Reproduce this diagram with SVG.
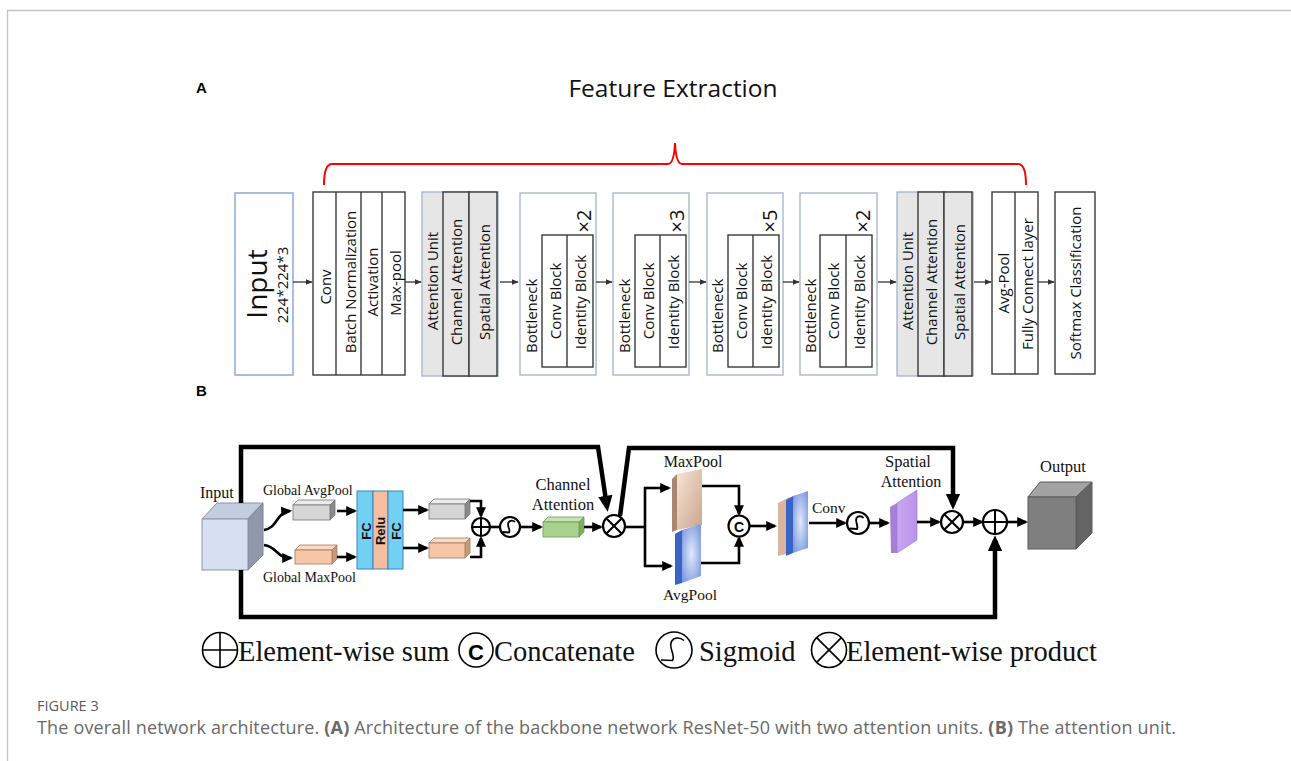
<svg xmlns="http://www.w3.org/2000/svg" width="1291" height="761" viewBox="0 0 1291 761">
<style>
.sa{font-family:"Open Sans","Liberation Sans",sans-serif;fill:#111}
.sb{font-family:"Liberation Serif","Times New Roman",serif;fill:#111}
.vt{font-family:"Open Sans","Liberation Sans",sans-serif;font-size:15px;fill:#111;text-anchor:middle;dominant-baseline:central}
.bx{fill:#fff;stroke:#3a3a3a;stroke-width:1.4}
.lb{fill:#fff;stroke:#a9b8cc;stroke-width:1.4}
.gu{fill:#e6e6e6;stroke:#a9b8cc;stroke-width:1.4}
.gi{fill:#e6e6e6;stroke:#3a3a3a;stroke-width:1.4}
.ca{fill:none;stroke:#333;stroke-width:1.3;marker-end:url(#mA)}
.cb{fill:none;stroke:#000;stroke-width:2.6}
.cbm{fill:none;stroke:#000;stroke-width:2.6;marker-end:url(#mB)}
.ct{fill:none;stroke:#000;stroke-width:4.5;stroke-linejoin:miter;marker-end:url(#mC)}
.op{fill:#fff;stroke:#000;stroke-width:2.2}
.lg{fill:#fff;stroke:#000;stroke-width:1.6}
</style>
<defs>
<marker id="mA" viewBox="0 0 10 10" refX="9" refY="5" markerWidth="7" markerHeight="7" markerUnits="userSpaceOnUse" orient="auto"><path d="M0,1 L10,5 L0,9 z" fill="#333"/></marker>
<marker id="mB" viewBox="0 0 10 10" refX="8" refY="5" markerWidth="11" markerHeight="11" markerUnits="userSpaceOnUse" orient="auto"><path d="M0,0.5 L10,5 L0,9.5 z" fill="#000"/></marker>
<marker id="mC" viewBox="0 0 10 10" refX="7" refY="5" markerWidth="16" markerHeight="16" markerUnits="userSpaceOnUse" orient="auto"><path d="M0,0.5 L10,5 L0,9.5 z" fill="#000"/></marker>
<linearGradient id="gMax" x1="0" y1="0" x2="1" y2="1"><stop offset="0" stop-color="#f7e4d4"/><stop offset="1" stop-color="#c9a58f"/></linearGradient>
<radialGradient id="gAvg" cx="0.5" cy="0.5" r="0.6"><stop offset="0" stop-color="#e2e9fa"/><stop offset="1" stop-color="#7f9de0"/></radialGradient>
<linearGradient id="gPur" x1="0" y1="0" x2="1" y2="0"><stop offset="0" stop-color="#c9a6f0"/><stop offset="1" stop-color="#b993ea"/></linearGradient>
</defs>
<rect width="1291" height="761" fill="#fff"/>
<path d="M7.5,761 L7.5,10.5 L1291,10.5" fill="none" stroke="#c4c4c4" stroke-width="1.3"/>

<!-- Part A -->
<text x="196" y="93" font-family="Liberation Sans, Arial, sans-serif" font-weight="bold" font-size="15" fill="#000">A</text>
<text class="sa" x="673" y="97" font-size="24.5" text-anchor="middle" fill="#222">Feature Extraction</text>
<path id="brace" d="M324,185 Q324,164 332,164 L668,164 Q674,164 675,143 Q676,164 682,164 L1018,164 Q1026,164 1026,185" fill="none" stroke="#ff0000" stroke-width="2"/>

<g id="a-input">
<rect x="235" y="193" width="58" height="182" fill="#fff" stroke="#8fa9d4" stroke-width="1.5"/>
<text class="vt" transform="translate(256,284) rotate(-90)" style="font-size:28px">Input</text>
<text class="vt" transform="translate(282,285) rotate(-90)">224*224*3</text>
</g>
<g id="a-conv">
<rect class="bx" x="313" y="192" width="92" height="183"/>
<line x1="336" y1="192" x2="336" y2="375" stroke="#3a3a3a" stroke-width="1.4"/>
<line x1="361" y1="192" x2="361" y2="375" stroke="#3a3a3a" stroke-width="1.4"/>
<line x1="382" y1="192" x2="382" y2="375" stroke="#3a3a3a" stroke-width="1.4"/>
<text class="vt" transform="translate(325,287) rotate(-90)">Conv</text>
<text class="vt" transform="translate(350,282) rotate(-90)">Batch Normalization</text>
<text class="vt" transform="translate(372,282) rotate(-90)">Activation</text>
<text class="vt" transform="translate(395,283) rotate(-90)">Max-pool</text>
</g>
<g id="a-att1">
<rect class="gu" x="422" y="192" width="76" height="184"/>
<rect class="gi" x="443" y="192" width="26" height="184"/>
<rect class="gi" x="469" y="192" width="28" height="184"/>
<text class="vt" transform="translate(432,281) rotate(-90)">Attention Unit</text>
<text class="vt" transform="translate(456,282) rotate(-90)">Channel Attention</text>
<text class="vt" transform="translate(484,282) rotate(-90)">Spatial Attention</text>
</g>
<g id="a-stage1">
<rect class="lb" x="520" y="193" width="76" height="182"/>
<rect class="bx" x="542" y="235" width="51" height="132"/>
<line x1="567" y1="235" x2="567" y2="367" stroke="#3a3a3a" stroke-width="1.4"/>
<text class="vt" transform="translate(531,353) rotate(-90)" style="text-anchor:start">Bottleneck</text>
<text class="vt" transform="translate(555,301) rotate(-90)">Conv Block</text>
<text class="vt" transform="translate(580,302) rotate(-90)">Identity Block</text>
<text class="vt" transform="translate(583,221) rotate(-90)" style="font-size:20px">×2</text>
</g>
<g id="a-stage2">
<rect class="lb" x="613" y="193" width="76" height="182"/>
<rect class="bx" x="635" y="235" width="51" height="132"/>
<line x1="660" y1="235" x2="660" y2="367" stroke="#3a3a3a" stroke-width="1.4"/>
<text class="vt" transform="translate(624,353) rotate(-90)" style="text-anchor:start">Bottleneck</text>
<text class="vt" transform="translate(648,301) rotate(-90)">Conv Block</text>
<text class="vt" transform="translate(673,302) rotate(-90)">Identity Block</text>
<text class="vt" transform="translate(676,221) rotate(-90)" style="font-size:20px">×3</text>
</g>
<g id="a-stage3">
<rect class="lb" x="707" y="193" width="76" height="182"/>
<rect class="bx" x="728" y="235" width="51" height="132"/>
<line x1="753" y1="235" x2="753" y2="367" stroke="#3a3a3a" stroke-width="1.4"/>
<text class="vt" transform="translate(717,353) rotate(-90)" style="text-anchor:start">Bottleneck</text>
<text class="vt" transform="translate(741,301) rotate(-90)">Conv Block</text>
<text class="vt" transform="translate(766,302) rotate(-90)">Identity Block</text>
<text class="vt" transform="translate(769,221) rotate(-90)" style="font-size:20px">×5</text>
</g>
<g id="a-stage4">
<rect class="lb" x="800" y="193" width="77" height="182"/>
<rect class="bx" x="820" y="235" width="52" height="132"/>
<line x1="846" y1="235" x2="846" y2="367" stroke="#3a3a3a" stroke-width="1.4"/>
<text class="vt" transform="translate(810,353) rotate(-90)" style="text-anchor:start">Bottleneck</text>
<text class="vt" transform="translate(833,301) rotate(-90)">Conv Block</text>
<text class="vt" transform="translate(859,302) rotate(-90)">Identity Block</text>
<text class="vt" transform="translate(862,221) rotate(-90)" style="font-size:20px">×2</text>
</g>
<g id="a-att2">
<rect class="gu" x="897" y="192" width="76" height="184"/>
<rect class="gi" x="918" y="192" width="26" height="184"/>
<rect class="gi" x="944" y="192" width="28" height="184"/>
<text class="vt" transform="translate(907,281) rotate(-90)">Attention Unit</text>
<text class="vt" transform="translate(931,282) rotate(-90)">Channel Attention</text>
<text class="vt" transform="translate(959,282) rotate(-90)">Spatial Attention</text>
</g>
<g id="a-head">
<rect class="bx" x="992" y="192" width="46" height="182"/>
<line x1="1015" y1="192" x2="1015" y2="374" stroke="#3a3a3a" stroke-width="1.4"/>
<text class="vt" transform="translate(1003,283) rotate(-90)">Avg-Pool</text>
<text class="vt" transform="translate(1027,284) rotate(-90)">Fully  Connect layer</text>
</g>
<g id="a-softmax">
<rect class="bx" x="1055" y="192" width="40" height="182"/>
<text class="vt" transform="translate(1075,283) rotate(-90)">Softmax Classification</text>
</g>
<g id="a-connectors">
<path class="ca" d="M293,282 L312,282"/>
<path class="ca" d="M405,282 L421,282"/>
<path class="ca" d="M500,282 L518,282"/>
<path class="ca" d="M596,282 L612,282"/>
<path class="ca" d="M689,282 L706,282"/>
<path class="ca" d="M783,282 L799,282"/>
<path class="ca" d="M878,282 L896,282"/>
<path class="ca" d="M974,282 L991,282"/>
<path class="ca" d="M1038,282 L1054,282"/>
</g>

<!-- Part B -->
<text x="196" y="396" font-family="Liberation Sans, Arial, sans-serif" font-weight="bold" font-size="15" fill="#000">B</text>

<g id="b-input">
<polygon points="202,519 217,503 263,503 248,519" fill="#c3cde0" stroke="#8a93a6" stroke-width="1"/>
<polygon points="248,519 263,503 263,555 248,570" fill="#9099ab" stroke="#7a8396" stroke-width="1"/>
<rect x="202" y="519" width="46" height="51" fill="#d7e0f1" stroke="#8a93a6" stroke-width="1"/>
<text class="sb" x="200" y="498" font-size="16">Input</text>
</g>
<g id="b-gap">
<polygon points="293,505 298,500 335,500 330,505" fill="#ececec" stroke="#777" stroke-width="0.8"/>
<polygon points="330,505 335,500 335,515 330,520" fill="#8a8a8a" stroke="#777" stroke-width="0.8"/>
<rect x="293" y="505" width="37" height="15" fill="#d6d6d6" stroke="#777" stroke-width="0.8"/>
<text class="sb" x="263" y="495" font-size="14">Global AvgPool</text>
</g>
<g id="b-gmp">
<polygon points="295,550 300,545 337,545 332,550" fill="#fbd9c2" stroke="#a07a60" stroke-width="0.8"/>
<polygon points="332,550 337,545 337,559 332,564" fill="#c99a7a" stroke="#a07a60" stroke-width="0.8"/>
<rect x="295" y="550" width="37" height="14" fill="#f6c6a6" stroke="#a07a60" stroke-width="0.8"/>
<text class="sb" x="263" y="582" font-size="14">Global MaxPool</text>
</g>
<g id="b-mlp">
<rect x="357" y="491" width="16" height="78" fill="#72d0f2" stroke="#3c84c4" stroke-width="1"/>
<rect x="373" y="491" width="15" height="78" fill="#f5bf9f" stroke="#3c84c4" stroke-width="1"/>
<rect x="388" y="491" width="15" height="78" fill="#72d0f2" stroke="#3c84c4" stroke-width="1"/>
<text transform="translate(366,531) rotate(-90)" font-family="Liberation Sans, Arial, sans-serif" font-weight="bold" font-size="13" text-anchor="middle" dominant-baseline="central" fill="#111">FC</text>
<text transform="translate(380,531) rotate(-90)" font-family="Liberation Sans, Arial, sans-serif" font-weight="bold" font-size="13" text-anchor="middle" dominant-baseline="central" fill="#111">Relu</text>
<text transform="translate(396,531) rotate(-90)" font-family="Liberation Sans, Arial, sans-serif" font-weight="bold" font-size="13" text-anchor="middle" dominant-baseline="central" fill="#111">FC</text>
</g>
<g id="b-avgout">
<polygon points="429,504 434,499 470,499 465,504" fill="#ececec" stroke="#777" stroke-width="0.8"/>
<polygon points="465,504 470,499 470,514 465,519" fill="#8a8a8a" stroke="#777" stroke-width="0.8"/>
<rect x="429" y="504" width="36" height="15" fill="#d6d6d6" stroke="#777" stroke-width="0.8"/>
</g>
<g id="b-maxout">
<polygon points="429,543 434,538 470,538 465,543" fill="#fbd9c2" stroke="#a07a60" stroke-width="0.8"/>
<polygon points="465,543 470,538 470,553 465,558" fill="#c99a7a" stroke="#a07a60" stroke-width="0.8"/>
<rect x="429" y="543" width="36" height="15" fill="#f6c6a6" stroke="#a07a60" stroke-width="0.8"/>
</g>
<g id="b-sum1">
<circle class="op" cx="481" cy="527" r="9"/>
<path d="M472,527 H490 M481,518 V536" stroke="#000" stroke-width="2"/>
</g>
<g id="b-sig1">
<circle class="op" cx="510" cy="527" r="10"/>
<path d="M502.5,532 L509,532.5 C511,530 506.5,526 508.5,522.5 C510,520 513,520 515,522" fill="none" stroke="#000" stroke-width="1.8"/>
</g>
<g id="b-ca">
<polygon points="543,522 548,517 584,517 579,522" fill="#c6e3b0" stroke="#6e9a55" stroke-width="0.8"/>
<polygon points="579,522 584,517 584,532 579,537" fill="#7fae5e" stroke="#6e9a55" stroke-width="0.8"/>
<rect x="543" y="522" width="36" height="15" fill="#a9d28c" stroke="#6e9a55" stroke-width="0.8"/>
<text class="sb" x="563" y="490" font-size="16.5" text-anchor="middle" fill="#2a2a2a">Channel</text>
<text class="sb" x="563" y="510" font-size="16.5" text-anchor="middle" fill="#2a2a2a">Attention</text>
</g>
<g id="b-prod1">
<circle class="op" cx="614" cy="526" r="11"/>
<path d="M606.2,518.2 L621.8,533.8 M621.8,518.2 L606.2,533.8" stroke="#000" stroke-width="2"/>
</g>
<g id="b-maxpool">
<polygon points="672,479 677,474 677,530 672,532" fill="#a98670"/>
<polygon points="677,474 702,469 702,525 677,530" fill="url(#gMax)"/>
<text class="sb" x="693" y="467" font-size="16" text-anchor="middle">MaxPool</text>
</g>
<g id="b-avgpool">
<polygon points="675,534 682,530 682,583 675,585" fill="#3a63c6"/>
<polygon points="682,530 701,524 701,576 682,583" fill="url(#gAvg)"/>
<text class="sb" x="690" y="600" font-size="15.5" text-anchor="middle">AvgPool</text>
</g>
<g id="b-concat">
<circle class="op" cx="739" cy="526" r="10.5"/>
<text x="739" y="527" font-family="Liberation Sans, Arial, sans-serif" font-weight="bold" font-size="14" text-anchor="middle" dominant-baseline="central" fill="#000">C</text>
</g>
<g id="b-cat">
<polygon points="778,503 790,497 790,553 778,556" fill="#d8b59c"/>
<polygon points="786,500 793,496 793,553 786,556" fill="#3a63c6"/>
<polygon points="793,496 808,491 808,548 793,553" fill="url(#gAvg)"/>
<text class="sb" x="812" y="513" font-size="15.5">Conv</text>
</g>
<g id="b-sig2">
<circle class="op" cx="858" cy="523" r="11"/>
<path d="M849.8,528.5 L857,529 C859,526 854.5,522 856.5,518 C858,515.5 861.5,515.5 863.5,518" fill="none" stroke="#000" stroke-width="2"/>
</g>
<g id="b-sa">
<polygon points="890,507 897,503 897,553 891,553" fill="#a57fd9"/>
<polygon points="897,503 917,490 917,540 897,553" fill="url(#gPur)" stroke="#9a76cf" stroke-width="0.6"/>
<text class="sb" x="908" y="467" font-size="16.5" text-anchor="middle" fill="#2a2a2a">Spatial</text>
<text class="sb" x="911" y="487" font-size="16" text-anchor="middle" fill="#2a2a2a">Attention</text>
</g>
<g id="b-prod2">
<circle class="op" cx="952" cy="522" r="11"/>
<path d="M944.2,514.2 L959.8,529.8 M959.8,514.2 L944.2,529.8" stroke="#000" stroke-width="2"/>
</g>
<g id="b-sum2">
<circle class="op" cx="995" cy="522" r="12"/>
<path d="M983,522 H1007 M995,510 V534" stroke="#000" stroke-width="2"/>
</g>
<g id="b-output">
<polygon points="1028,497 1040,482 1092,482 1076,497" fill="#a3a3a3" stroke="#5a5a5a" stroke-width="1"/>
<polygon points="1076,497 1092,482 1092,533 1076,549" fill="#646464" stroke="#5a5a5a" stroke-width="1"/>
<rect x="1028" y="497" width="48" height="52" fill="#7f7f7f" stroke="#5a5a5a" stroke-width="1"/>
<text class="sb" x="1063" y="472" font-size="16.5" text-anchor="middle">Output</text>
</g>

<g id="b-connectors">
<path class="cbm" d="M264,530 C278,528 276,512 290,511"/>
<path class="cbm" d="M264,545 C278,547 276,558 291,558"/>
<path class="cbm" d="M337,511 L355,511"/>
<path class="cbm" d="M337,557 L355,557"/>
<path class="cbm" d="M403,510 L427,510"/>
<path class="cbm" d="M403,548 L427,548"/>
<path class="cbm" d="M470,501 L481,501 L481,516"/>
<path class="cbm" d="M470,557 L481,557 L481,538"/>
<path class="cb" d="M490,527 L500,527"/>
<path class="cbm" d="M520,527 L541,527"/>
<path class="cbm" d="M584,527 L601,527"/>
<path class="cb" d="M625,527 L645,527"/>
<path class="cb" d="M645,487 L645,567"/>
<path class="cbm" d="M644,488 L669,488"/>
<path class="cbm" d="M644,566 L671,566"/>
<path class="cbm" d="M702,486 L739,486 L739,514"/>
<path class="cbm" d="M701,563 L739,563 L739,538"/>
<path class="cbm" d="M750,526 L775,526"/>
<path class="cbm" d="M809,523 L845,523"/>
<path class="cbm" d="M869,523 L888,523"/>
<path class="cbm" d="M917,522 L939,522"/>
<path class="cbm" d="M963,522 L982,522"/>
<path class="cbm" d="M1007,522 L1026,522"/>
<path class="ct" d="M241,503 L241,447 L598,447 L607,507"/>
<path class="ct" d="M620,516 L629,448 L953,448 L953,505"/>
<path class="ct" d="M241,570 L241,617 L995,617 L995,540"/>
</g>

<g id="legend">
<circle class="lg" cx="220" cy="650" r="17.5"/>
<path d="M202.5,650 H237.5 M220,632.5 V667.5" stroke="#000" stroke-width="1.6"/>
<text class="sb" x="238" y="661" font-size="28.5">Element-wise sum</text>
<circle class="lg" cx="476" cy="650" r="17"/>
<text x="476" y="652" font-family="Liberation Sans, Arial, sans-serif" font-weight="bold" font-size="22" text-anchor="middle" dominant-baseline="central" fill="#000">C</text>
<text class="sb" x="494" y="661" font-size="28.5">Concatenate</text>
<circle class="lg" cx="674" cy="650" r="18"/>
<path d="M661,660 L672.5,660.5 C676,655 668,648 671.5,641.5 C674,637 680,637 684,640.5" fill="none" stroke="#000" stroke-width="1.6"/>
<text class="sb" x="699" y="661" font-size="28.5">Sigmoid</text>
<circle class="lg" cx="829" cy="650" r="17.5"/>
<path d="M816.6,637.6 L841.4,662.4 M841.4,637.6 L816.6,662.4" stroke="#000" stroke-width="1.6"/>
<text class="sb" x="846" y="661" font-size="28.5">Element-wise product</text>
</g>

<g id="caption">
<text x="37" y="711" font-family="Open Sans, Liberation Sans, sans-serif" font-size="14.5" fill="#5a5a5a">FIGURE 3</text>
<text x="37" y="734" font-family="Open Sans, Liberation Sans, sans-serif" font-size="18" fill="#6a6a6a" textLength="1139" lengthAdjust="spacing">The overall network architecture. <tspan font-weight="bold">(A)</tspan> Architecture of the backbone network ResNet-50 with two attention units. <tspan font-weight="bold">(B)</tspan> The attention unit.</text>
</g>
</svg>
